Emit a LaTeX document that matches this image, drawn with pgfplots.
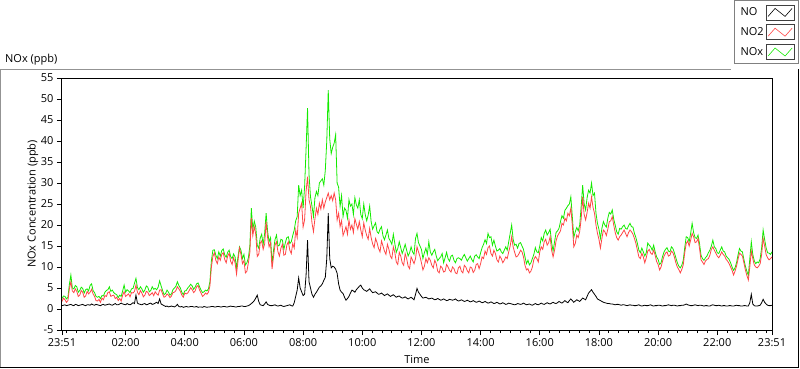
\documentclass[border=0pt]{standalone}
\usepackage{pgfplots}
\pgfplotsset{compat=1.18}
\usepackage{pgfplotstable}
\usepackage{fontspec}
\setmainfont{Open Sans}
\definecolor{noxgreen}{RGB}{20,235,0}
\definecolor{notwored}{RGB}{255,70,70}
\pgfplotstableread{
t no no2 nox
0.0 0.8 1.8 2.5
0.05 0.9 2.6 3.1
0.1 1.0 2.2 3.0
0.15 0.8 1.6 2.4
0.2 0.9 2.0 2.8
0.25 1.0 4.8 5.9
0.3 1.1 6.5 8.1
0.35 0.9 4.3 5.0
0.4 0.8 3.9 4.8
0.45 1.1 4.8 5.6
0.5 1.0 4.2 5.3
0.55 0.8 3.0 4.0
0.6 0.9 3.3 4.4
0.65 1.0 4.4 5.2
0.7 1.1 4.0 4.9
0.75 0.9 2.8 3.8
0.8 0.8 3.1 4.6
0.85 1.0 4.2 4.8
0.9 1.0 3.6 4.3
0.95 0.9 4.0 5.6
1.0 1.2 4.7 6.0
1.05 1.0 3.6 4.4
1.1 0.9 3.0 3.9
1.15 1.1 2.0 3.0
1.2 1.0 1.9 2.8
1.25 0.9 2.3 3.0
1.3 0.8 1.6 2.5
1.35 1.0 2.6 3.2
1.4 1.1 2.2 3.1
1.45 0.9 3.2 4.0
1.5 1.0 3.0 4.4
1.55 1.1 3.9 4.6
1.6 1.2 4.1 5.3
1.65 1.0 3.0 4.2
1.7 0.9 3.2 4.5
1.75 1.1 3.3 3.9
1.8 1.3 2.5 3.6
1.85 1.0 2.8 3.4
1.9 1.0 2.0 2.7
1.95 1.2 2.5 3.3
2.0 1.4 1.9 3.0
2.05 1.2 3.3 4.3
2.1 1.1 4.1 5.7
2.15 1.0 3.0 4.0
2.2 1.3 3.3 4.6
2.25 1.1 3.6 4.3
2.3 1.0 2.9 3.9
2.35 1.2 3.9 4.8
2.4 1.5 3.8 4.9
2.45 1.3 4.2 6.1
2.5 3.3 5.7 7.3
2.55 1.4 4.0 5.1
2.6 1.2 3.4 4.6
2.65 1.1 4.4 5.3
2.7 1.0 3.8 4.8
2.75 1.2 2.9 4.0
2.8 1.3 3.3 4.5
2.85 1.0 4.2 5.5
2.9 1.1 4.0 5.2
2.95 1.3 3.2 4.1
3.0 1.4 3.5 4.4
3.05 1.1 3.9 5.3
3.1 1.2 3.2 4.7
3.15 1.4 4.1 4.9
3.2 1.6 3.6 4.6
3.25 1.3 3.3 5.2
3.3 2.4 4.5 6.7
3.35 1.2 4.6 5.5
3.4 1.0 3.6 4.4
3.45 0.8 2.8 3.4
3.5 0.6 3.0 3.7
3.55 0.7 3.6 4.5
3.6 0.5 3.3 4.0
3.65 0.6 2.7 3.3
3.7 0.7 3.1 3.6
3.75 0.6 3.9 4.6
3.8 0.5 4.0 5.0
3.85 0.7 4.4 5.4
3.9 1.1 5.3 6.5
3.95 0.6 4.8 5.6
4.0 0.5 4.2 5.0
4.05 0.6 3.3 4.0
4.1 0.4 2.8 3.4
4.15 0.5 3.8 4.3
4.2 0.6 3.6 4.4
4.25 0.5 3.8 5.0
4.3 0.5 4.4 5.4
4.35 0.6 5.1 5.9
4.4 0.6 4.6 5.5
4.45 0.5 3.9 4.7
4.5 0.5 4.3 5.2
4.55 0.6 5.3 6.0
4.6 0.4 5.6 6.2
4.65 0.5 4.5 5.3
4.7 0.5 3.8 4.5
4.75 0.4 3.0 3.9
4.8 0.6 3.3 4.1
4.85 0.5 3.8 4.5
4.9 0.4 3.5 4.3
4.95 0.5 4.0 4.8
5.0 0.5 5.5 6.5
5.05 0.6 10.0 11.5
5.1 0.6 12.5 14.0
5.15 0.5 13.4 14.1
5.2 0.5 11.6 12.8
5.25 0.6 10.8 12.0
5.3 0.6 12.4 13.6
5.35 0.5 11.6 12.6
5.4 0.5 13.0 13.9
5.45 0.6 13.4 14.3
5.5 0.6 11.8 12.9
5.55 0.5 11.0 12.3
5.6 0.5 12.6 13.5
5.65 0.6 13.3 14.0
5.7 0.7 11.4 12.5
5.75 0.6 10.6 12.0
5.8 0.6 12.2 13.1
5.85 0.5 11.0 12.4
5.9 0.5 8.3 9.8
5.95 0.6 11.5 12.5
6.0 0.6 14.5 14.8
6.05 0.7 13.0 14.0
6.1 0.7 10.8 12.0
6.15 0.6 11.5 13.0
6.2 0.6 8.6 10.5
6.25 0.7 9.0 11.0
6.3 0.8 11.0 12.2
6.35 1.0 13.5 15.0
6.4 1.3 21.7 24.0
6.45 1.6 17.5 19.0
6.5 2.0 19.6 20.9
6.55 2.6 17.8 19.5
6.6 3.3 12.5 15.2
6.65 1.8 13.0 14.5
6.7 1.0 15.7 16.9
6.75 0.9 16.2 17.8
6.8 0.8 14.2 15.3
6.85 1.2 15.5 18.0
6.9 1.7 20.8 22.8
6.95 1.1 17.0 18.5
7.0 0.9 14.8 16.0
7.05 0.8 15.8 17.0
7.1 0.8 9.5 10.8
7.15 0.9 12.5 14.0
7.2 1.0 15.2 16.5
7.25 0.8 16.0 17.6
7.3 0.7 13.6 15.0
7.35 0.8 12.6 15.2
7.4 0.9 14.5 16.6
7.45 0.7 15.4 16.4
7.5 0.6 12.8 14.2
7.55 0.7 13.0 15.8
7.6 0.8 15.2 17.0
7.65 0.9 16.0 17.2
7.7 1.0 14.0 15.6
7.75 0.8 13.2 16.0
7.8 0.7 15.6 17.5
7.85 1.5 14.5 18.8
7.9 3.0 18.8 21.0
7.95 4.5 17.0 22.0
8.0 7.4 22.8 29.5
8.05 5.0 24.0 27.0
8.1 4.1 25.2 28.3
8.15 3.2 19.5 24.0
8.2 3.5 21.2 29.0
8.25 8.0 28.0 38.0
8.3 16.4 31.5 47.8
8.35 6.5 26.0 32.0
8.4 5.0 24.4 26.7
8.45 3.5 20.5 24.5
8.5 2.8 18.4 22.0
8.55 3.5 21.5 26.5
8.6 4.0 24.0 28.0
8.65 4.6 22.5 27.0
8.7 5.2 25.2 30.0
8.75 5.5 23.8 30.5
8.8 6.0 26.0 31.0
8.85 6.8 24.0 29.5
8.9 7.5 25.5 33.0
8.95 12.0 26.5 40.0
9.0 22.8 27.6 52.1
9.05 12.0 26.0 40.5
9.1 9.8 27.0 37.0
9.15 10.2 25.8 38.5
9.2 10.0 27.6 39.5
9.25 9.5 26.0 41.5
9.3 8.5 21.2 30.0
9.35 6.0 22.8 29.0
9.4 4.5 19.6 24.4
9.45 4.0 21.0 27.0
9.5 3.7 17.5 22.0
9.55 2.8 18.5 24.0
9.6 2.1 19.6 23.5
9.65 2.5 17.8 21.6
9.7 3.0 21.2 26.0
9.75 3.8 19.0 24.5
9.8 4.5 20.0 25.0
9.85 4.3 18.2 22.5
9.9 4.0 21.5 26.5
9.95 4.6 20.2 24.8
10.0 5.0 19.0 24.0
10.05 5.4 20.8 26.0
10.1 5.7 18.8 22.5
10.15 5.0 17.2 21.5
10.2 4.6 20.5 25.0
10.25 4.4 18.8 22.5
10.3 4.2 17.5 21.0
10.35 4.5 16.6 22.4
10.4 4.8 19.2 24.5
10.45 4.3 17.0 20.8
10.5 3.9 15.5 19.0
10.55 4.0 14.6 19.8
10.6 4.1 16.8 20.5
10.65 3.8 15.8 18.4
10.7 3.5 14.4 18.0
10.75 3.6 13.6 19.0
10.8 3.8 16.2 19.6
10.85 3.5 15.0 17.4
10.9 3.2 13.8 16.5
10.95 3.4 13.0 17.6
11.0 3.6 15.4 18.8
11.05 3.3 14.2 16.8
11.1 3.0 12.6 16.2
11.15 3.2 12.0 15.4
11.2 3.4 14.8 17.8
11.25 3.1 13.5 15.6
11.3 2.8 11.2 13.5
11.35 3.0 10.6 14.4
11.4 3.1 13.5 16.0
11.45 2.8 12.6 14.6
11.5 2.6 11.0 13.2
11.55 2.7 10.4 14.2
11.6 2.9 13.2 15.4
11.65 2.6 12.0 14.0
11.7 2.4 10.2 12.6
11.75 2.6 9.6 13.4
11.8 2.8 12.4 14.8
11.85 2.5 11.6 13.6
11.9 2.2 10.8 13.0
11.95 3.5 12.0 16.8
12.0 4.9 14.8 18.0
12.05 4.0 13.6 15.8
12.1 3.5 12.5 15.0
12.15 3.0 11.0 14.2
12.2 2.6 9.3 12.0
12.25 2.7 10.2 13.4
12.3 2.8 12.0 14.5
12.35 2.6 11.0 13.0
12.4 2.4 12.2 16.0
12.45 2.5 11.6 13.6
12.5 2.6 10.4 12.8
12.55 2.4 9.8 13.6
12.6 2.2 11.6 14.2
12.65 2.3 10.8 12.6
12.7 2.5 9.0 11.5
12.75 2.3 8.6 12.0
12.8 2.1 10.2 12.4
12.85 2.2 9.8 13.2
12.9 2.4 8.8 11.0
12.95 2.2 9.0 12.2
13.0 2.0 10.6 13.5
13.05 2.1 10.0 12.0
13.1 2.3 9.2 11.4
13.15 2.2 8.8 12.6
13.2 2.1 10.0 12.8
13.25 2.2 9.6 11.6
13.3 2.4 8.6 11.0
13.35 2.1 8.4 12.0
13.4 1.9 9.8 12.2
13.45 2.0 10.2 12.0
13.5 2.2 9.0 11.6
13.55 2.0 8.6 12.4
13.6 1.8 10.4 13.0
13.65 1.9 10.0 12.2
13.7 2.1 9.1 11.4
13.75 1.9 8.6 12.0
13.8 1.7 10.0 12.6
13.85 1.8 9.8 11.8
13.9 2.0 8.7 11.2
13.95 1.8 9.2 12.6
14.0 1.6 10.6 12.9
14.05 1.7 10.8 12.4
14.1 1.9 9.6 12.0
14.15 1.7 10.8 13.4
14.2 1.5 12.4 14.6
14.25 1.6 12.0 15.4
14.3 1.8 13.8 16.5
14.35 1.6 13.0 15.6
14.4 1.4 14.6 18.0
14.45 1.5 15.0 17.0
14.5 1.7 13.2 17.2
14.55 1.5 12.6 15.2
14.6 1.3 14.0 16.4
14.65 1.4 13.2 15.0
14.7 1.6 11.7 13.8
14.75 1.4 11.2 14.0
14.8 1.2 12.6 14.4
14.85 1.3 12.0 13.6
14.9 1.5 11.0 13.2
14.95 1.3 11.6 14.0
15.0 1.1 12.4 14.8
15.05 1.2 12.0 14.0
15.1 1.4 13.6 16.0
15.15 1.3 15.0 18.0
15.2 1.2 17.2 20.0
15.25 1.1 14.8 16.6
15.3 1.0 13.5 15.2
15.35 1.1 12.4 15.4
15.4 1.3 12.6 14.5
15.45 1.2 13.2 15.6
15.5 1.1 14.0 15.8
15.55 1.2 13.6 15.0
15.6 1.4 12.4 14.2
15.65 1.2 10.4 12.4
15.7 1.0 9.3 10.8
15.75 1.1 9.6 11.6
15.8 1.2 8.6 10.5
15.85 1.0 9.0 11.0
15.9 0.9 10.0 12.0
15.95 1.1 11.8 13.0
16.0 1.3 12.5 14.6
16.05 1.1 12.0 13.6
16.1 1.0 11.2 13.4
16.15 1.2 13.6 15.0
16.2 1.4 14.8 17.0
16.25 1.2 14.2 16.2
16.3 1.1 16.0 18.0
16.35 1.3 16.6 18.8
16.4 1.5 15.2 17.6
16.45 1.3 15.8 18.2
16.5 1.2 17.2 19.0
16.55 1.4 14.0 15.8
16.6 1.6 12.4 13.8
16.65 1.4 14.0 16.0
16.7 1.3 16.2 18.2
16.75 1.5 17.4 18.6
16.8 1.8 18.0 19.2
16.85 1.6 18.6 20.8
16.9 1.4 20.4 22.2
16.95 1.7 20.0 21.6
17.0 2.0 21.6 23.5
17.05 1.7 21.0 24.0
17.1 1.5 22.8 24.6
17.15 2.0 22.2 25.0
17.2 2.4 24.0 26.7
17.25 2.0 20.0 22.0
17.3 1.6 14.8 17.0
17.35 1.9 15.6 18.4
17.4 2.2 17.6 19.4
17.45 2.0 17.0 18.6
17.5 1.8 18.5 20.0
17.55 2.2 21.5 24.5
17.6 2.6 26.7 29.5
17.65 2.4 22.5 25.0
17.7 2.2 21.2 23.6
17.75 3.0 23.0 26.5
17.8 3.8 25.2 28.3
17.85 4.2 24.0 27.6
17.9 4.6 26.7 30.0
17.95 4.0 24.2 27.0
18.0 3.5 22.8 27.6
18.05 3.0 20.0 22.8
18.1 2.4 18.0 20.4
18.15 2.2 16.6 19.0
18.2 2.0 14.5 16.8
18.25 1.8 16.8 19.2
18.3 1.6 18.8 20.8
18.35 1.5 18.4 20.0
18.4 1.4 17.5 19.5
18.45 1.3 19.0 21.6
18.5 1.3 20.8 23.0
18.55 1.2 21.0 22.6
18.6 1.2 22.0 23.6
18.65 1.1 20.0 21.4
18.7 1.0 18.2 20.0
18.75 1.1 17.0 18.4
18.8 1.1 16.4 17.8
18.85 1.0 17.2 19.2
18.9 0.9 17.6 19.0
18.95 1.0 18.2 19.6
19.0 1.0 18.8 20.0
19.05 0.9 18.0 19.2
19.1 0.8 17.2 19.0
19.15 0.9 18.2 19.8
19.2 1.0 18.8 20.4
19.25 0.9 18.4 19.6
19.3 0.9 17.8 19.5
19.35 0.8 16.8 18.0
19.4 0.8 15.6 17.0
19.45 0.9 14.0 15.6
19.5 1.0 12.4 14.0
19.55 0.8 12.0 13.4
19.6 0.7 13.3 14.5
19.65 0.8 12.4 13.6
19.7 0.9 11.0 12.6
19.75 0.8 12.2 13.4
19.8 0.8 13.8 15.7
19.85 0.9 14.2 15.2
19.9 1.0 13.3 14.8
19.95 0.8 13.0 14.0
20.0 0.7 14.0 15.2
20.05 0.8 12.8 13.6
20.1 0.8 11.3 12.4
20.15 0.9 10.6 11.8
20.2 0.9 9.3 10.6
20.25 0.8 10.0 11.0
20.3 0.7 11.4 12.5
20.35 0.8 12.6 13.6
20.4 0.8 13.3 14.2
20.45 0.9 13.6 14.6
20.5 1.0 12.6 13.8
20.55 0.9 12.8 13.6
20.6 0.8 13.8 14.8
20.65 0.9 13.4 14.4
20.7 0.9 12.4 13.4
20.75 0.8 11.0 12.2
20.8 0.7 10.0 11.0
20.85 0.8 9.4 10.2
20.9 0.8 8.6 9.8
20.95 0.9 9.4 10.4
21.0 0.9 10.5 11.6
21.05 1.0 13.4 14.6
21.1 1.2 15.6 17.2
21.15 1.0 16.2 17.0
21.2 0.9 15.0 16.0
21.25 0.8 16.4 18.0
21.3 0.8 18.0 20.4
21.35 0.9 17.2 18.2
21.4 1.0 15.8 17.0
21.45 0.9 16.0 16.8
21.5 0.8 16.8 17.6
21.55 0.9 14.4 15.6
21.6 0.9 11.7 12.8
21.65 0.8 11.2 12.0
21.7 0.7 10.6 11.6
21.75 0.8 11.4 12.2
21.8 0.8 11.8 12.6
21.85 0.7 12.0 13.4
21.9 0.7 12.8 14.0
21.95 0.9 14.2 15.0
22.0 1.0 14.8 16.4
22.05 0.9 14.0 14.8
22.1 0.8 13.3 14.4
22.15 0.8 12.6 13.4
22.2 0.9 12.2 13.2
22.25 0.8 12.8 14.0
22.3 0.7 13.6 14.8
22.35 0.8 13.0 13.8
22.4 0.8 12.6 13.6
22.45 0.7 11.8 12.6
22.5 0.7 11.4 12.2
22.55 0.8 10.8 11.8
22.6 0.8 10.0 11.0
22.65 0.7 9.2 10.0
22.7 0.7 8.1 9.2
22.75 0.8 9.0 9.8
22.8 0.9 10.2 11.0
22.85 0.8 11.8 12.8
22.9 0.8 13.3 14.4
22.95 0.7 13.0 13.8
23.0 0.7 12.6 13.6
23.05 0.8 11.0 11.8
23.1 0.8 9.3 10.2
23.15 0.7 8.0 9.0
23.2 0.7 6.9 8.0
23.25 1.5 10.0 12.0
23.3 3.5 13.8 16.0
23.35 1.2 12.0 13.0
23.4 0.8 10.5 11.5
23.45 0.7 10.0 10.8
23.5 0.7 9.8 11.2
23.55 0.8 10.2 11.0
23.6 0.9 10.8 12.0
23.65 1.5 13.0 14.6
23.7 2.3 16.8 18.8
23.75 1.6 15.0 16.6
23.8 1.2 13.0 14.6
23.85 0.9 12.2 13.4
23.9 0.8 11.7 13.3
23.95 0.8 12.0 13.0
24.0 0.9 12.4 13.6
}\datatab
\begin{document}
\begin{tikzpicture}[x=1pt,y=1pt]
\path[use as bounding box] (0,0) rectangle (800,-369);
\draw[gray!85,line width=1pt] (0,-69.5) -- (731,-69.5);
\draw[gray!85,line width=1pt] (0.5,-69.5) -- (0.5,-367);
\draw[black,line width=1pt] (0,-367.5) -- (799,-367.5);
\draw[black,line width=1pt] (798.5,-69.5) -- (798.5,-367.5);
\node[anchor=base west,inner sep=0pt,font=\fontsize{11}{13}\selectfont] at (5,-63) {NOx (ppb)};
\begin{axis}[
  at={(62pt,-330pt)}, anchor=south west,
  scale only axis, width=710pt, height=252pt,
  xmin=0, xmax=24, ymin=-5, ymax=55,
  ytick={-5,0,...,55},
  xtick={0,2.15,4.15,6.15,8.15,10.15,12.15,14.15,16.15,18.15,20.15,22.15,24},
  xticklabels={23:51,02:00,04:00,06:00,08:00,10:00,12:00,14:00,16:00,18:00,20:00,22:00,23:51},
  minor xtick={0.15,0.48333,...,23.9},
  tick pos=left, tick align=outside,
  major tick length=5pt, minor tick length=3pt,
  every tick/.style={black, line width=0.8pt},
  axis line style={black, line width=1pt},
  /pgf/number format/assume math mode=true,
  tick label style={font=\fontsize{11}{13}\selectfont},
  label style={font=\fontsize{11}{13}\selectfont},
  xlabel={Time},
  ylabel={NOx Concentration (ppb)},
  xlabel style={at={(axis description cs:0.5,-0.119)}, anchor=center},
  ylabel style={at={(axis description cs:-0.041,0.5)}, anchor=center, rotate=0},
  legend style={at={(axis description cs:1.0380,1.3095)}, anchor=north east,
    draw=gray, line width=1pt, fill=white, inner sep=4pt, row sep=4pt,
    font=\fontsize{11}{13}\selectfont,
    /tikz/every even column/.append style={column sep=6pt}},
  legend plot pos=right,
  legend cell align=left,
  legend image code/.code={
    \draw[black!75,fill=white,line width=0.8pt,solid] (0pt,-7.5pt) rectangle (28pt,7.5pt);
    \draw[#1,line width=0.6pt] (2pt,-4pt) -- (9pt,4pt) -- (19pt,-4pt) -- (26pt,4pt);},
]
\addplot[noxgreen, line width=0.8pt, forget plot] table[x=t,y=nox] {\datatab};
\addplot[notwored, line width=0.8pt, forget plot] table[x=t,y=no2] {\datatab};
\addplot[black, line width=0.8pt, forget plot] table[x=t,y=no] {\datatab};
\addlegendimage{black}
\addlegendentry{NO}
\addlegendimage{notwored}
\addlegendentry{NO2}
\addlegendimage{noxgreen}
\addlegendentry{NOx}
\end{axis}
\end{tikzpicture}
\end{document}
